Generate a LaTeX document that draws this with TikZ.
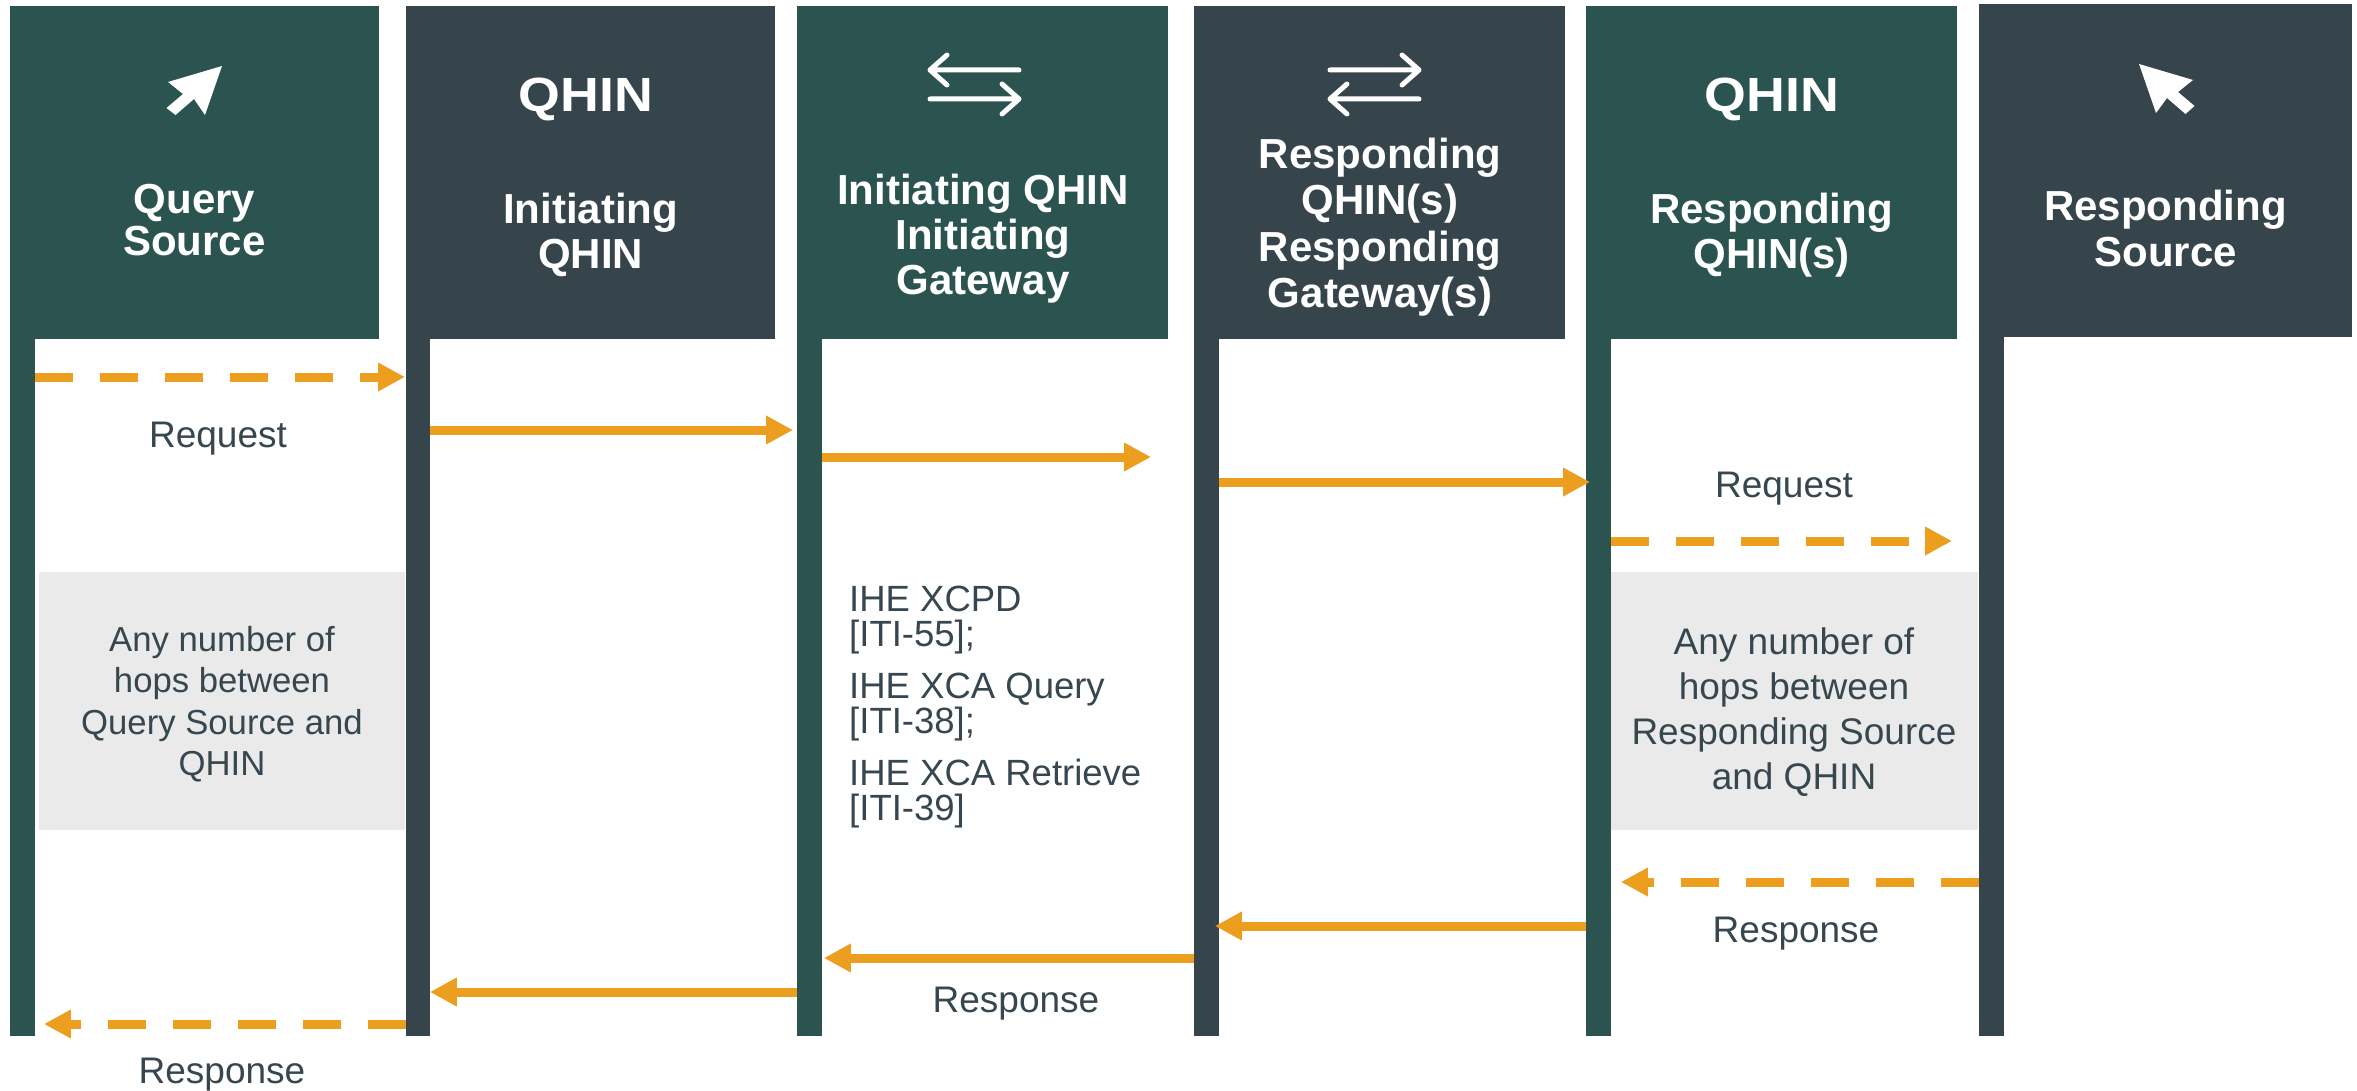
\documentclass[tikz,border=0pt]{standalone}
\usepackage{fontspec}
\setmainfont{Liberation Sans}
\newfontfamily\qfont[FakeStretch=1.12]{Liberation Sans}
\usetikzlibrary{arrows.meta}
\definecolor{hgreen}{HTML}{2B5450}
\definecolor{hslate}{HTML}{36454C}
\definecolor{txt}{HTML}{37474F}
\definecolor{flowc}{HTML}{EC9E1F}
\definecolor{hopgray}{HTML}{EAEAEA}
\begin{document}
\begin{tikzpicture}[x=1pt,y=-1pt,
  hdr/.style={fill=#1, draw=none, inner sep=0pt, anchor=north west, minimum height=333pt},
  lane/.style={fill=#1, draw=none, inner sep=0pt, anchor=north west, minimum width=24.5pt, minimum height=698pt},
  hopbox/.style={fill=hopgray, draw=none, inner sep=0pt, anchor=north west, minimum height=258pt},
  hdrtxt/.style={text=white, inner sep=0pt, align=center},
  bigq/.style={text=white, inner sep=0pt, anchor=base, font=\qfont\fontsize{48}{48}\selectfont\bfseries},
  lbl/.style={text=txt, inner sep=0pt, anchor=base, font=\fontsize{37}{37}\selectfont},
  hoptxt/.style={text=txt, inner sep=0pt, align=center},
  flow/.style={draw=flowc, line width=9pt, -{Triangle[length=27pt,width=27pt]}},
  dflow/.style={flow, dash pattern=on 38pt off 27pt},
  icon/.style={draw=white, line width=5pt, line cap=round, line join=round},
  cursor/.style={fill=white, draw=none}
]
\useasboundingbox (0,0) rectangle (2357,1091);
\fill[white] (0,0) rectangle (2357,1091);

% lifelines
\node[lane=hgreen] (b1) at (10,338) {};
\node[lane=hslate, minimum width=23.5pt] (b2) at (406,338) {};
\node[lane=hgreen] (b3) at (797,338) {};
\node[lane=hslate] (b4) at (1194,338) {};
\node[lane=hgreen] (b5) at (1586,338) {};
\node[lane=hslate, minimum height=700pt] (b6) at (1979,336) {};

% header boxes
\node[hdr=hgreen, minimum width=369pt] (h1) at (10,6) {};
\node[hdr=hslate, minimum width=369pt] (h2) at (406,6) {};
\node[hdr=hgreen, minimum width=371pt] (h3) at (797,6) {};
\node[hdr=hslate, minimum width=371pt] (h4) at (1194,6) {};
\node[hdr=hgreen, minimum width=371pt] (h5) at (1586,6) {};
\node[hdr=hslate, minimum width=373pt] (h6) at (1979,4) {};

% icons
\fill[cursor] (222,66) -- (168,82) -- (183,94) -- (166.5,108) -- (175.5,115) -- (194,99) -- (205,115) -- cycle;
\fill[cursor] (2139,64) -- (2193,80) -- (2178,92) -- (2194.5,106) -- (2185.5,114) -- (2167,98) -- (2156,113) -- cycle;
\draw[icon] (1019,70) -- (930,70) (947,55) -- (930,70) -- (947,85);
\draw[icon] (930,99) -- (1019,99) (1002,84) -- (1019,99) -- (1002,114);
\draw[icon] (1330,70) -- (1419,70) (1402,55) -- (1419,70) -- (1402,85);
\draw[icon] (1419,99) -- (1330,99) (1347,84) -- (1330,99) -- (1347,114);

\node[bigq] (q2) at (586,112) {QHIN};
\node[bigq] (q5) at (1772,112) {QHIN};

% header texts
\node[hdrtxt, font=\fontsize{42}{42}\selectfont\bfseries] (t1) at (194.5,220) {Query\\Source};
\node[hdrtxt, font=\fontsize{42}{45}\selectfont\bfseries] (t2) at (590.5,234.5) {Initiating\\QHIN};
\node[hdrtxt, font=\fontsize{42}{45}\selectfont\bfseries] (t3) at (983,239) {Initiating QHIN\\Initiating\\Gateway};
\node[hdrtxt, font=\fontsize{42}{46.5}\selectfont\bfseries] (t4) at (1380,227) {Responding\\QHIN(s)\\Responding\\Gateway(s)};
\node[hdrtxt, font=\fontsize{42}{45}\selectfont\bfseries] (t5) at (1771.5,235) {Responding\\QHIN(s)};
\node[hdrtxt, font=\fontsize{42}{46}\selectfont\bfseries] (t6) at (2165.5,228) {Responding\\Source};

% hop boxes
\node[hopbox, minimum width=366pt] (g1) at (39,572) {};
\node[hopbox, minimum width=367pt] (g2) at (1611,572) {};
\node[hoptxt, font=\fontsize{34.7}{41.5}\selectfont] (g1t) at (222,704) {Any number of\\hops between\\Query Source and\\QHIN};
\node[hoptxt, font=\fontsize{37}{45}\selectfont] (g2t) at (1794,712) {Any number of\\hops between\\Responding Source\\and QHIN};

% protocol text
\node[text=txt, inner sep=0pt, anchor=north west, align=left, font=\fontsize{36.5}{35.5}\selectfont] (ihe) at (849,585.5)
  {IHE XCPD\\{[ITI-55];}\\[16pt]IHE XCA Query\\{[ITI-38];}\\[16pt]IHE XCA Retrieve\\{[ITI-39]}};

% labels
\node[lbl] (lreq1) at (218,447) {Request};
\node[lbl] (lreq2) at (1784,497) {Request};
\node[lbl] (lres1) at (1796,942) {Response};
\node[lbl] (lres2) at (1016,1012) {Response};
\node[lbl] (lres3) at (222,1083) {Response};

% request flow
\draw[dflow, shorten >=1pt] (b1.east |- 0,377) -- (b2.west |- 0,377);
\draw[flow, shorten >=4pt] (b2.east |- 0,430) -- (b3.west |- 0,430);
\draw[flow, shorten >=43pt] (b3.east |- 0,457) -- (b4.west |- 0,457);
\draw[flow, shorten >=-4pt] (b4.east |- 0,482) -- (b5.west |- 0,482);
\draw[dflow, shorten >=27pt] (b5.east |- 0,541) -- (b6.west |- 0,541);

% response flow
\draw[dflow, shorten >=10pt] (b6.west |- 0,882) -- (b5.east |- 0,882);
\draw[flow, shorten >=-4pt] (b5.west |- 0,926) -- (b4.east |- 0,926);
\draw[flow, shorten >=2pt] (b4.west |- 0,958) -- (b3.east |- 0,958);
\draw[flow] (b3.west |- 0,992) -- (b2.east |- 0,992);
\draw[dflow, shorten >=9pt] (b2.west |- 0,1024) -- (b1.east |- 0,1024);
\end{tikzpicture}
\end{document}
